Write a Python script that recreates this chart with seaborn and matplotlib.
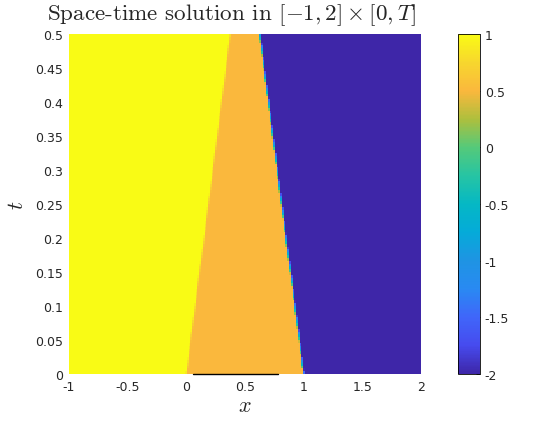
import numpy as np
import matplotlib
matplotlib.use("Agg")
import matplotlib.pyplot as plt
from matplotlib.colors import LinearSegmentedColormap
import seaborn as sns

# ---- data ----
x_range = [-1.0, 2.0]
t_range = [0.0, 0.5]
states = [1.0, 0.5, -2.0]          # left, middle, right state
jump_positions = [0.0, 1.0]        # initial discontinuities
shock_speeds = [0.75, -0.75]       # speeds of the two fronts
x_ticks = [-1, -0.5, 0, 0.5, 1, 1.5, 2]
x_tick_labels = ["-1", "-0.5", "0", "0.5", "1", "1.5", "2"]
t_ticks = [0, 0.05, 0.1, 0.15, 0.2, 0.25, 0.3, 0.35, 0.4, 0.45, 0.5]
t_tick_labels = ["0", "0.05", "0.1", "0.15", "0.2", "0.25", "0.3", "0.35", "0.4", "0.45", "0.5"]
cbar_ticks = [-2, -1.5, -1, -0.5, 0, 0.5, 1]
cbar_tick_labels = ["-2", "-1.5", "-1", "-0.5", "0", "0.5", "1"]
base_segment_x = [0.06, 0.78]
base_segment_t = [0.0, 0.0]

# parula-like colormap
parula_pos = [0.0, 0.083, 0.167, 0.25, 0.333, 0.417, 0.5, 0.583, 0.667, 0.75, 0.833, 0.917, 1.0]
parula_rgb = [(0.2422, 0.1504, 0.6603), (0.276, 0.294, 0.935), (0.25, 0.40, 0.98),
              (0.16, 0.54, 0.95), (0.12, 0.58, 0.89), (0.02, 0.67, 0.85),
              (0.02, 0.72, 0.77), (0.15, 0.77, 0.64), (0.33, 0.79, 0.48),
              (0.68, 0.75, 0.24), (0.98, 0.72, 0.24), (0.97, 0.84, 0.18),
              (0.9769, 0.9839, 0.0805)]
parula = LinearSegmentedColormap.from_list("parula", list(zip(parula_pos, parula_rgb)), N=256)

# ---- build the cell-averaged field ----
nx, nt = 200, 120
x_edges = np.linspace(x_range[0], x_range[1], nx + 1)
t_cent = np.linspace(t_range[0], t_range[1], nt + 1)
t_cent = 0.5 * (t_cent[:-1] + t_cent[1:])
field = np.zeros((nt, nx))
for j, t in enumerate(t_cent):
    fronts = [p + s * t for p, s in zip(jump_positions, shock_speeds)]
    bounds = [x_range[0] - 1] + fronts + [x_range[1] + 1]
    for k, u in enumerate(states):
        lo, hi = bounds[k], bounds[k + 1]
        cover = np.clip(np.minimum(x_edges[1:], hi) - np.maximum(x_edges[:-1], lo), 0, None)
        field[j] += u * cover / (x_edges[1] - x_edges[0])

# ---- figure ----
sns.set_style("white")
plt.rcParams["mathtext.fontset"] = "cm"
fig = plt.figure(figsize=(5.5, 4.27), dpi=100)
ax = fig.add_axes([69 / 550, 52 / 427, 352 / 550, 340 / 427])
cax = fig.add_axes([458 / 550, 52 / 427, 22 / 550, 340 / 427])

sns.heatmap(field, ax=ax, cmap=parula, vmin=-2, vmax=1, cbar=True, cbar_ax=cax,
            xticklabels=False, yticklabels=False)
ax.invert_yaxis()

def to_ix(v):
    return (np.asarray(v, float) - x_range[0]) / (x_range[1] - x_range[0]) * nx

def to_it(v):
    return (np.asarray(v, float) - t_range[0]) / (t_range[1] - t_range[0]) * nt

ax.set_xticks(to_ix(x_ticks))
ax.set_xticklabels(x_tick_labels, rotation=0)
ax.set_yticks(to_it(t_ticks))
ax.set_yticklabels(t_tick_labels, rotation=0)
tick_col = (0.15, 0.15, 0.15)
ax.tick_params(axis="both", length=0, labelsize=9, colors=tick_col, pad=4)
for s in ax.spines.values():
    s.set_visible(False)

ax.plot(to_ix(base_segment_x), to_it(base_segment_t), color="black", lw=1.0,
        clip_on=False, zorder=5)

ax.set_xlabel(r"$x$", fontsize=16, labelpad=2)
ax.set_ylabel(r"$t$", fontsize=16, labelpad=6)

fig.text(232 / 550, 1 - 15 / 427, r"Space-time solution in $[-1,2]\times[0,T]$",
         ha="center", va="center", fontsize=16.6, family="cmr10")

cb = ax.collections[0].colorbar
cb.set_ticks(cbar_ticks)
cb.set_ticklabels(cbar_tick_labels)
cb.ax.tick_params(direction="in", length=3, width=0.6, labelsize=9, colors=tick_col,
                  right=True, left=False)
cb.outline.set_visible(True)
cb.outline.set_edgecolor("black")
cb.outline.set_linewidth(0.6)

fig.savefig("out.png", dpi=100)
